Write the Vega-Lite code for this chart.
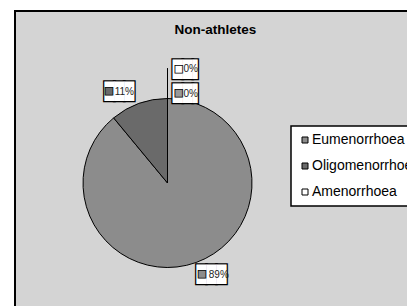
{
  "$schema": "https://vega.github.io/schema/vega-lite/v6.json",
  "background": "white",
  "padding": {"left": 14, "top": 10, "right": -17, "bottom": 0},
  "spacing": 0,
  "bounds": "flush",
  "datasets": {
    "shares": [
      {"category": "Eumenorrhoea", "value": 89, "label": "89%"},
      {"category": "Oligomenorrhoea", "value": 11, "label": "11%"},
      {"category": "Amenorrhoea", "value": 0, "label": "0%"},
      {"category": "Unspecified", "value": 0, "label": "0%"}
    ],
    "heading": [{"title": "Non-athletes"}]
  },
  "config": {
    "view": {"fill": "#d4d4d4", "stroke": null},
    "concat": {"spacing": 0},
    "legend": {
      "title": null,
      "fillColor": "white",
      "strokeColor": "black",
      "strokeWidth": 1.5,
      "padding": 7,
      "symbolType": "square",
      "symbolSize": 36,
      "symbolStrokeColor": "black",
      "symbolStrokeWidth": 1,
      "labelFont": "Liberation Sans",
      "labelFontSize": 14,
      "labelColor": "black",
      "labelOffset": 0,
      "rowPadding": 12,
      "labelLimit": 300
    }
  },
  "vconcat": [
    {
      "width": 393,
      "height": 48,
      "view": {"fill": "#d4d4d4", "stroke": "black", "strokeWidth": 2, "strokeDash": [393, 441, 48]},
      "data": {"name": "heading"},
      "mark": {"type": "text", "font": "Liberation Sans", "fontSize": 13.5, "fontWeight": "bold", "fill": "black", "align": "center", "baseline": "alphabetic", "dx": 3.8, "dy": -0.7},
      "encoding": {"text": {"field": "title", "type": "nominal"}}
    },
    {
      "spacing": 0,
      "bounds": "flush",
      "hconcat": [
        {
          "width": 305,
          "height": 248,
          "view": {"fill": "#d4d4d4", "stroke": "black", "strokeWidth": 2, "strokeDash": [0, 858, 248]},
          "data": {"name": "shares"},
          "encoding": {
            "theta": {"field": "value", "type": "quantitative", "stack": true},
            "order": {"field": "category", "type": "nominal", "sort": "ascending"},
            "detail": {"field": "category", "type": "nominal"}
          },
          "layer": [
            {
              "mark": {"type": "arc", "outerRadius": 84.5, "stroke": "black", "strokeWidth": 1},
              "encoding": {
                "color": {
                  "field": "category", "type": "nominal",
                  "scale": {"domain": ["Eumenorrhoea", "Oligomenorrhoea", "Amenorrhoea", "Unspecified"], "range": ["#8c8c8c", "#6a6a6a", "#ffffff", "#999999"]},
                  "legend": {"orient": "none", "legendX": 276, "legendY": 115, "values": ["Eumenorrhoea", "Oligomenorrhoea", "Amenorrhoea"]}
                }
              }
            },
            {
              "mark": {"type": "arc", "outerRadius": 114.5, "innerRadius": 84.5, "fillOpacity": 0, "stroke": "black", "strokeWidth": 1},
              "encoding": {"strokeOpacity": {"condition": {"test": "datum.value > 0", "value": 0}, "value": 1}}
            },

            {"mark": {"type": "text", "radius": 97, "font": "DejaVu Sans Mono", "fontSize": 16.5, "align": "center", "baseline": "middle", "dx": 11.1, "dy": 1, "fill": "black", "stroke": "black", "strokeWidth": 2.6},
             "encoding": {"text": {"condition": {"test": "datum.category === 'Eumenorrhoea'", "value": "███"}, "value": ""}}},
            {"mark": {"type": "text", "radius": 97, "font": "DejaVu Sans Mono", "fontSize": 16.5, "align": "center", "baseline": "middle", "dx": 11.1, "dy": 1, "fill": "white"},
             "encoding": {"text": {"condition": {"test": "datum.category === 'Eumenorrhoea'", "value": "███"}, "value": ""}}},
            {"mark": {"type": "text", "radius": 97, "font": "DejaVu Sans", "fontSize": 10, "align": "center", "baseline": "middle", "dx": 1.6, "dy": 0, "stroke": "black", "strokeWidth": 0.8},
             "encoding": {"text": {"condition": {"test": "datum.category === 'Eumenorrhoea'", "value": "■"}, "value": ""}, "color": {"field": "category", "type": "nominal"}}},
            {"mark": {"type": "text", "radius": 97, "font": "Liberation Sans", "fontSize": 10, "align": "left", "baseline": "middle", "dx": 8.4, "dy": 0.6, "fill": "#222222"},
             "encoding": {"text": {"condition": {"test": "datum.category === 'Eumenorrhoea'", "field": "label"}, "value": ""}}},

            {"mark": {"type": "text", "radius": 97.6, "font": "DejaVu Sans Mono", "fontSize": 16.5, "align": "center", "baseline": "middle", "dx": -15.1, "dy": 1, "fill": "black", "stroke": "black", "strokeWidth": 2.6},
             "encoding": {"text": {"condition": {"test": "datum.category === 'Oligomenorrhoea'", "value": "███"}, "value": ""}}},
            {"mark": {"type": "text", "radius": 97.6, "font": "DejaVu Sans Mono", "fontSize": 16.5, "align": "center", "baseline": "middle", "dx": -15.1, "dy": 1, "fill": "white"},
             "encoding": {"text": {"condition": {"test": "datum.category === 'Oligomenorrhoea'", "value": "███"}, "value": ""}}},
            {"mark": {"type": "text", "radius": 97.6, "font": "DejaVu Sans", "fontSize": 10, "align": "center", "baseline": "middle", "dx": -25.5, "dy": 0, "stroke": "black", "strokeWidth": 0.8},
             "encoding": {"text": {"condition": {"test": "datum.category === 'Oligomenorrhoea'", "value": "■"}, "value": ""}, "color": {"field": "category", "type": "nominal"}}},
            {"mark": {"type": "text", "radius": 97.6, "font": "Liberation Sans", "fontSize": 10, "align": "left", "baseline": "middle", "dx": -19.8, "dy": 0.6, "fill": "#222222"},
             "encoding": {"text": {"condition": {"test": "datum.category === 'Oligomenorrhoea'", "field": "label"}, "value": ""}}},

            {"mark": {"type": "text", "radius": 114.5, "font": "DejaVu Sans Mono", "fontSize": 16.5, "align": "center", "baseline": "middle", "dx": 20.2, "dy": 1, "fill": "black", "stroke": "black", "strokeWidth": 2.6},
             "encoding": {"text": {"condition": {"test": "datum.category === 'Amenorrhoea'", "value": "██▌"}, "value": ""}}},
            {"mark": {"type": "text", "radius": 114.5, "font": "DejaVu Sans Mono", "fontSize": 16.5, "align": "center", "baseline": "middle", "dx": 20.2, "dy": 1, "fill": "white"},
             "encoding": {"text": {"condition": {"test": "datum.category === 'Amenorrhoea'", "value": "██▌"}, "value": ""}}},
            {"mark": {"type": "text", "radius": 114.5, "font": "DejaVu Sans", "fontSize": 10, "align": "center", "baseline": "middle", "dx": 11.2, "dy": 0, "stroke": "black", "strokeWidth": 0.8},
             "encoding": {"text": {"condition": {"test": "datum.category === 'Amenorrhoea'", "value": "■"}, "value": ""}, "color": {"field": "category", "type": "nominal"}}},
            {"mark": {"type": "text", "radius": 114.5, "font": "Liberation Sans", "fontSize": 10, "align": "left", "baseline": "middle", "dx": 15.9, "dy": 0.6, "fill": "#222222"},
             "encoding": {"text": {"condition": {"test": "datum.category === 'Amenorrhoea'", "field": "label"}, "value": ""}}},

            {"mark": {"type": "text", "radius": 90, "font": "DejaVu Sans Mono", "fontSize": 16.5, "align": "center", "baseline": "middle", "dx": 20.2, "dy": 1, "fill": "black", "stroke": "black", "strokeWidth": 2.6},
             "encoding": {"text": {"condition": {"test": "datum.category === 'Unspecified'", "value": "██▌"}, "value": ""}}},
            {"mark": {"type": "text", "radius": 90, "font": "DejaVu Sans Mono", "fontSize": 16.5, "align": "center", "baseline": "middle", "dx": 20.2, "dy": 1, "fill": "white"},
             "encoding": {"text": {"condition": {"test": "datum.category === 'Unspecified'", "value": "██▌"}, "value": ""}}},
            {"mark": {"type": "text", "radius": 90, "font": "DejaVu Sans", "fontSize": 10, "align": "center", "baseline": "middle", "dx": 11.2, "dy": 0, "stroke": "black", "strokeWidth": 0.8},
             "encoding": {"text": {"condition": {"test": "datum.category === 'Unspecified'", "value": "■"}, "value": ""}, "color": {"field": "category", "type": "nominal"}}},
            {"mark": {"type": "text", "radius": 90, "font": "Liberation Sans", "fontSize": 10, "align": "left", "baseline": "middle", "dx": 15.9, "dy": 0.6, "fill": "#222222"},
             "encoding": {"text": {"condition": {"test": "datum.category === 'Unspecified'", "field": "label"}, "value": ""}}}
          ]
        },
        {
          "width": 88,
          "height": 248,
          "view": {"fill": "#d4d4d4", "stroke": null},
          "data": {"name": "heading"},
          "mark": {"type": "text"},
          "encoding": {"text": {"value": ""}}
        }
      ]
    }
  ]
}
